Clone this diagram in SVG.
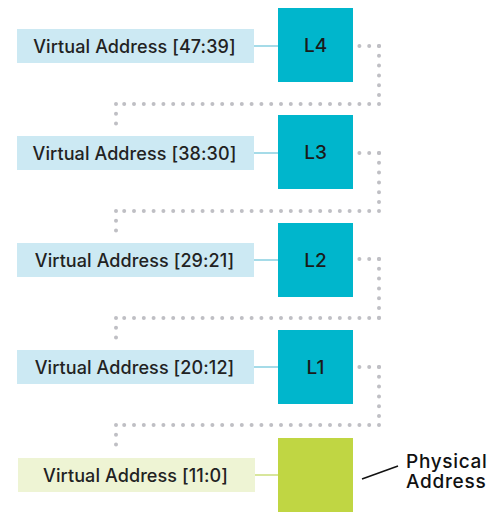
<svg xmlns="http://www.w3.org/2000/svg" width="501" height="512" viewBox="0 0 501 512">
<style>
.lbl{fill:#cce9f3}
.lblg{fill:#eef4d4}
.box{fill:#00b6cc}
.boxg{fill:#c0d643}
.t{font-family:Inter,"Noto Sans",sans-serif;font-size:18px;letter-spacing:0.1px;fill:#222;text-anchor:middle;font-weight:500}
.bt{font-family:Inter,"Noto Sans",sans-serif;font-size:19px;fill:#1a1a1a;text-anchor:middle;font-weight:500}
.pa{font-family:Inter,"Noto Sans",sans-serif;font-size:19px;letter-spacing:0.7px;fill:#111;font-weight:500}
.ln{stroke:#a5dbe8;stroke-width:2;fill:none}
.lng{stroke:#d8e69c;stroke-width:2;fill:none}
.dot{stroke:#bfbfc4;stroke-width:4;stroke-linecap:round;stroke-dasharray:0 9.8;fill:none}
</style>
<g id="connectors">
<line class="ln" x1="254" y1="46" x2="278" y2="46"/>
<line class="ln" x1="254" y1="153" x2="278" y2="153"/>
<line class="ln" x1="254" y1="260" x2="278" y2="260"/>
<line class="ln" x1="254" y1="367" x2="278" y2="367"/>
<line class="lng" x1="255" y1="475" x2="278" y2="475"/>
<g id="dots">
<path class="dot" d="M379 46 H358"/><path class="dot" d="M379 46 V104"/><path class="dot" d="M379 104 H116"/><path class="dot" d="M116 104 V133"/>
<path class="dot" d="M379 153 H358"/><path class="dot" d="M379 153 V211"/><path class="dot" d="M379 211 H116"/><path class="dot" d="M116 211 V240"/>
<path class="dot" d="M379 259 H358"/><path class="dot" d="M379 259 V318"/><path class="dot" d="M379 318 H116"/><path class="dot" d="M116 318 V347"/>
<path class="dot" d="M379 367 H358"/><path class="dot" d="M379 367 V425"/><path class="dot" d="M379 425 H116"/><path class="dot" d="M116 425 V454"/>
</g>
<line x1="362" y1="479" x2="398" y2="466" stroke="#111" stroke-width="1.5"/>
</g>
<g id="va4"><rect class="lbl" x="17" y="29" width="237" height="34"/><text class="t" x="134.5" y="52.5">Virtual Address [47:39]</text></g>
<g id="va3"><rect class="lbl" x="17" y="136" width="237" height="34"/><text class="t" x="134.5" y="159.5">Virtual Address [38:30]</text></g>
<g id="va2"><rect class="lbl" x="17" y="243" width="237" height="34"/><text class="t" x="134.5" y="266.5">Virtual Address [29:21]</text></g>
<g id="va1"><rect class="lbl" x="17" y="350" width="237" height="34"/><text class="t" x="134.5" y="373.5">Virtual Address [20:12]</text></g>
<g id="va0"><rect class="lblg" x="18" y="458" width="237" height="34"/><text class="t" x="135.5" y="481.5">Virtual Address [11:0]</text></g>
<g id="L4"><rect class="box" x="278" y="8" width="75" height="74"/><text class="bt" x="315.5" y="52">L4</text></g>
<g id="L3"><rect class="box" x="278" y="115" width="75" height="74"/><text class="bt" x="315.5" y="159">L3</text></g>
<g id="L2"><rect class="box" x="278" y="223" width="75" height="74"/><text class="bt" x="315.5" y="267">L2</text></g>
<g id="L1"><rect class="box" x="278" y="330" width="75" height="74"/><text class="bt" x="315.5" y="374">L1</text></g>
<g id="PA"><rect class="boxg" x="278" y="438" width="75" height="74"/></g>
<g id="physical"><text class="pa" x="406" y="467.5">Physical</text><text class="pa" x="406" y="488">Address</text></g>
</svg>
